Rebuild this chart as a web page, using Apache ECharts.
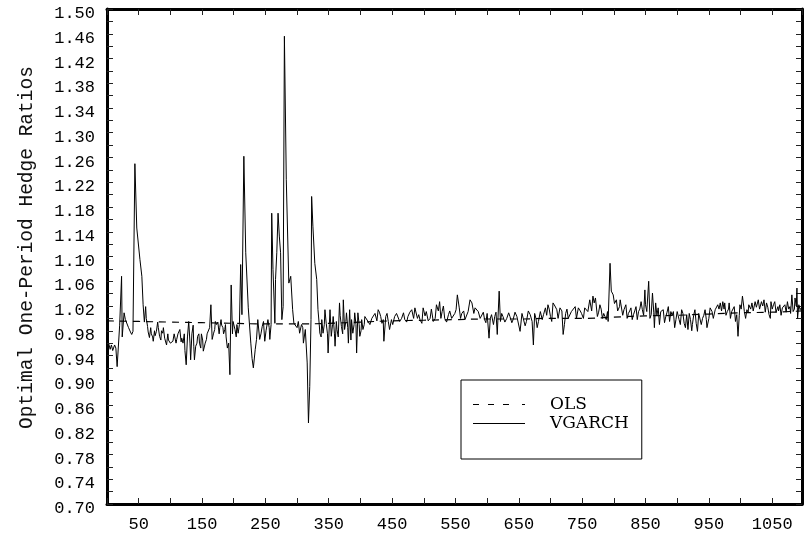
<!DOCTYPE html>
<html>
<head>
<meta charset="utf-8">
<script src="https://cdn.jsdelivr.net/npm/echarts@6/dist/echarts.min.js"></script>
<style>html,body{margin:0;padding:0;background:#fff}#c{width:807px;height:539px}</style>
</head>
<body>
<div id="c"></div>
<script>
const vgarchX = [0,3,5,7,9,12,14,16,20,23,24,27,29,31,34,37,39,41,44,47,52,55,57,59,61,64,67,70,73,76,78,80,83,86,88,91,94,97,99,102,104,107,110,112,115,118,120,123,125,127,129,132,134,136,138,140,143,146,149,152,155,157,160,164,166,168,170,173,175,178,181,184,186,188,190,194,196,199,202,205,207,211,213,216,219,223,227,231,236,238,241,245,249,254,257,260,262,265,266,268,270,272,274,276,278,280,283,287,290,293,295,298,302,304,307,310,313,316,318,320,322,323,325,328,331,333,336,339,341,344,346,349,352,354,357,360,363,367,370,373,375,378,381,383,386,388,391,394,396,399,402,404,407,412,418,423,428,432,436,437,440,444,446,449,454,460,465,470,475,481,486,490,494,499,504,510,515,520,525,529,533,539,544,549,553,556,560,565,570,573,576,581,586,591,596,600,603,607,612,616,619,621,625,631,636,641,647,652,657,662,668,673,677,681,684,689,692,696,700,704,710,715,720,724,728,733,739,744,749,754,759,762,767,771,774,778,782,786,790,791,794,796,799,804,809,812,816,819,823,827,831,835,839,843,845,849,852,855,859,861,864,866,870,874,878,882,886,890,894,896,900,903,907,911,915,917,921,924,928,932,936,940,944,947,952,955,960,964,968,972,975,979,982,986,990,994,996,999,1003,1006,1010,1013,1018,1023,1028,1033,1037,1041,1045,1048,1052,1054,1059,1062,1066,1070,1074,1078,1081,1083,1086,1089,1090,1092,1094,1097,
  62,65,69,72,75,81,85,89,93,96,100,106,109,114,117,122,131,137,142,145,148,151,154,158,162,171,177,180,183,187,192,198,204,209,229,234,243,247,251,256,259,300,306,309,335,338,343,348,351,356,359,362,365,368,372,377,380,385,390,393,398,401,406,
  410,415,421,426,430,434,442,451,457,462,468,473,478,484,488,492,497,502,507,512,518,523,527,531,536,541,547,551,558,563,568,579,584,589,594,598,605,610,614,623,628,634,639,644,650,655,660,665,671,675,679,687,694,698,702,707,712,718,722,726,731,736,741,747,752,757,765,769,776,780,784,788,801,806,810,814,818,821,825,829,833,837,841,847,850,857,863,868,872,876,880,884,888,892,898,905,909,913,919,923,926,930,934,938,942,946,950,957,962,966,970,974,977,981,984,988,992,998,1001,1005,1008,1012,1016,1020,1025,1030,1035,1039,1043,1047,1050,1056,1060,1064,1068,1072,1076,1079,1085,1088];
const vgarchY = [0.953,0.958,0.950,0.957,0.948,0.957,0.952,0.922,0.989,1.068,0.970,1.009,0.998,0.995,0.985,0.978,0.974,0.979,1.250,1.146,1.095,1.068,1.022,0.994,1.019,0.987,0.969,0.975,0.963,0.972,0.979,0.994,0.971,0.980,0.976,0.968,0.957,0.965,0.968,0.958,0.963,0.972,0.966,0.975,0.982,0.968,0.960,0.948,0.925,0.970,0.995,0.933,0.975,0.989,0.933,0.955,0.971,0.960,0.975,0.947,0.960,0.966,0.975,1.022,0.966,0.975,0.982,0.990,0.994,0.985,0.989,0.975,0.982,0.970,0.952,0.909,1.054,0.995,0.982,0.990,0.976,1.087,1.006,1.262,1.106,1.017,0.960,0.920,0.966,0.998,0.966,0.987,0.963,0.998,0.966,1.170,1.079,0.992,1.063,1.106,1.170,1.133,1.106,0.998,1.019,1.456,1.224,1.057,1.068,1.014,0.992,0.990,0.995,0.976,0.990,0.960,0.982,0.928,0.831,0.890,0.998,1.197,1.149,1.089,1.063,1.014,0.976,0.998,0.976,1.014,0.992,0.944,1.014,0.971,1.003,0.955,0.982,1.025,0.987,1.030,0.982,1.009,0.960,1.014,0.998,0.976,1.009,0.944,1.009,0.971,0.998,0.982,1.003,0.995,1.000,1.008,1.014,1.003,0.998,0.963,1.003,0.995,0.982,0.998,1.003,1.011,1.000,0.998,1.003,1.014,1.017,1.000,0.998,1.017,1.011,1.000,0.995,1.022,1.027,1.011,1.000,1.006,1.000,1.008,1.038,1.017,1.008,0.998,1.011,1.030,1.025,1.017,1.011,1.003,0.998,1.008,0.968,1.006,1.003,0.974,1.044,0.995,1.003,1.000,1.003,0.998,1.003,0.979,1.000,0.995,1.006,0.957,1.000,0.995,1.011,1.006,1.017,1.022,1.003,1.025,1.014,1.017,0.974,1.008,1.000,1.011,1.019,1.017,1.008,1.017,1.011,1.030,1.036,1.033,1.003,1.022,1.000,1.003,1.011,0.995,1.089,1.044,1.038,1.030,1.019,1.027,1.014,1.022,1.008,1.017,1.006,1.019,1.011,1.027,1.014,1.046,1.011,1.060,1.006,1.041,0.985,1.025,1.017,1.011,1.014,1.003,1.019,1.011,1.011,0.985,1.011,0.998,1.014,0.992,1.006,0.982,0.998,0.990,1.014,0.979,1.011,1.000,1.014,0.985,1.017,1.011,1.014,1.022,1.025,1.027,1.025,1.011,1.025,1.011,1.019,1.006,0.971,1.022,1.036,1.011,1.014,1.022,1.025,1.027,1.030,1.027,1.030,1.025,1.006,1.027,1.022,1.027,1.019,1.022,1.017,1.022,1.027,1.019,1.038,1.011,1.033,1.049,1.000,1.022,1.014,1.019,
  1.000,0.978,0.985,0.970,0.980,0.985,0.965,0.985,0.968,0.975,0.960,0.975,0.960,0.978,0.962,0.975,0.960,0.955,0.960,0.975,0.952,0.965,0.950,0.975,0.985,0.995,0.975,0.998,0.985,0.990,0.960,0.975,0.970,0.990,0.935,0.950,0.975,0.995,0.980,0.985,0.990,0.985,0.975,0.985,0.990,0.970,0.990,0.975,0.990,0.990,0.975,0.995,0.970,1.005,0.975,0.995,0.985,0.965,0.990,0.990,0.990,0.980,0.990,
  1.006,0.990,1.003,0.996,1.010,0.992,1.008,0.990,1.008,0.995,1.009,0.994,1.010,1.000,1.020,1.006,0.992,1.004,0.996,1.015,1.000,1.012,1.000,1.020,0.994,1.012,0.997,1.014,1.000,1.012,0.995,1.008,1.020,1.000,1.010,0.993,1.000,0.990,1.010,1.008,0.994,1.009,0.993,1.010,1.000,1.008,0.988,1.012,0.995,1.008,0.985,0.998,1.005,1.015,0.995,1.020,1.000,1.012,0.990,1.015,0.997,1.010,1.000,1.012,1.000,1.020,1.012,1.025,1.010,1.015,1.008,0.998,1.024,1.012,1.030,1.005,1.016,1.000,1.012,0.998,1.012,0.998,1.015,1.005,1.022,1.000,1.010,1.005,0.990,1.008,0.993,1.010,0.995,1.005,0.998,0.990,1.008,0.985,1.008,0.980,1.005,0.992,1.008,0.990,1.005,0.998,1.000,1.000,1.012,1.015,1.012,1.015,1.005,1.015,1.000,1.012,0.995,1.005,1.015,1.020,1.000,1.010,1.015,1.012,1.018,1.015,1.020,1.010,1.018,1.000,1.015,1.010,1.012,1.005,1.015,1.010,1.015,1.008,1.015,1.020];
const olsX = [0,50,100,150,200,250,300,350,400,450,500,550,600,650,700,750,800,850,900,950,1000,1050,1097];
const olsY = [0.996,0.995,0.994,0.993,0.992,0.991,0.991,0.992,0.994,0.996,0.997,0.998,0.999,0.999,1.000,1.000,1.002,1.004,1.005,1.007,1.009,1.010,1.012];
const xLabelTicks = [50,150,250,350,450,550,650,750,850,950,1050];
const yTitle = 'Optimal One-Period Hedge Ratios';

const MONO = 'Liberation Mono';
const vgarchData = vgarchX.map((x, i) => [x, vgarchY[i]]).sort((a, b) => a[0] - b[0]);
const olsData = olsX.map((x, i) => [x, olsY[i]]);

const frame = { lineStyle: { color: '#000', width: 3 } };
const tick = { inside: true, length: 6, lineStyle: { color: '#222', width: 1 } };

const xBase = {
  type: 'value', min: 0, max: 1097, interval: 50,
  axisLine: Object.assign({ show: true, onZero: false }, frame),
  axisTick: tick, splitLine: { show: false }
};
const yBase = {
  type: 'value', min: 0.70, max: 1.50, interval: 0.04,
  axisLine: Object.assign({ show: true, onZero: false }, frame),
  axisTick: tick,
  minorTick: { show: true, splitNumber: 2, length: 6, lineStyle: { color: '#222', width: 1 } },
  splitLine: { show: false }, minorSplitLine: { show: false }
};

const solidIcon = 'path://M0,0h52v1h-52z';
const dashIcon = 'path://M0,0h6v1h-6z M15,0h6v1h-6z M30,0h6v1h-6z M49,0h2v1h-2z M51,0h1v1h-1z';

const chart = echarts.init(document.getElementById('c'), null, { renderer: 'canvas' });
chart.setOption({
  animation: false,
  backgroundColor: '#fff',
  grid: { left: 107, top: 9, right: 5, bottom: 35, containLabel: false },
  xAxis: [
    Object.assign({}, xBase, {
      position: 'bottom',
      axisLabel: {
        color: '#000', fontFamily: MONO, fontSize: 17, margin: 12,
        showMaxLabel: false,
        formatter: v => (xLabelTicks.indexOf(Math.round(v)) >= 0 ? String(Math.round(v)) : '')
      }
    }),
    Object.assign({}, xBase, { position: 'top', axisLabel: { show: false } })
  ],
  yAxis: [
    Object.assign({}, yBase, {
      position: 'left',
      name: yTitle, nameLocation: 'middle', nameRotate: 90, nameGap: 70,
      nameTextStyle: { color: '#111', fontFamily: MONO, fontSize: 19.5, padding: [0, 0, 0, 18] },
      axisLabel: {
        color: '#000', fontFamily: MONO, fontSize: 17, margin: 12,
        verticalAlign: 'top', lineHeight: 9,
        formatter: v => v.toFixed(2)
      }
    }),
    Object.assign({}, yBase, { position: 'right', axisLabel: { show: false } })
  ],
  legend: {
    orient: 'vertical', left: 461, top: 380,
    borderColor: '#000', borderWidth: 1,
    padding: [16, 13, 27, 12],
    itemWidth: 52, itemHeight: 14, itemGap: 2,
    textStyle: { color: '#000', fontFamily: 'DejaVu Serif', fontSize: 17, padding: [0, 0, 0, 20] },
    data: [
      { name: 'OLS', icon: dashIcon },
      { name: 'VGARCH', icon: solidIcon }
    ]
  },
  series: [
    {
      name: 'OLS', type: 'line', data: olsData, symbol: 'none', showSymbol: false,
      smooth: true, xAxisIndex: 0, yAxisIndex: 0,
      lineStyle: { color: '#000', width: 1.2, type: [7, 6] }, itemStyle: { color: '#000' }, z: 3
    },
    {
      name: 'VGARCH', type: 'line', data: vgarchData, symbol: 'none', showSymbol: false,
      xAxisIndex: 0, yAxisIndex: 0,
      lineStyle: { color: '#000', width: 1 }, itemStyle: { color: '#000' }, z: 2
    }
  ]
});
</script>
</body>
</html>
